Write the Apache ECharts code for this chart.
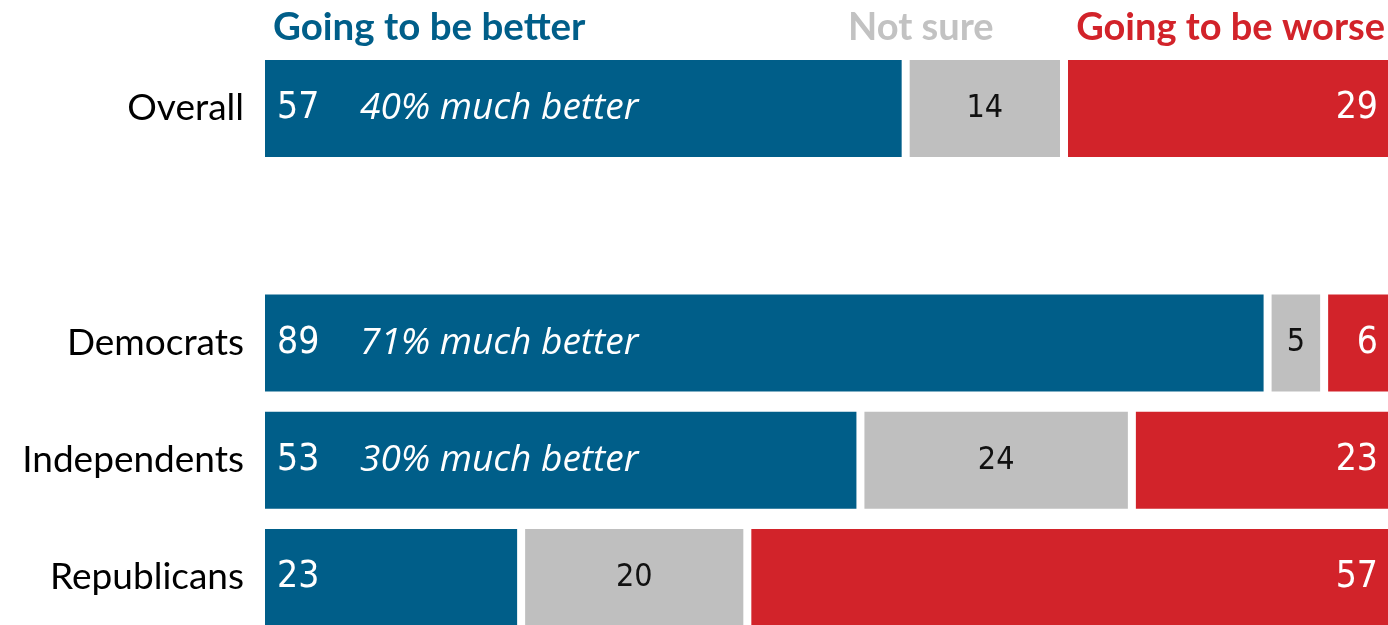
<!DOCTYPE html>
<html>
<head>
<meta charset="utf-8">
<script src="https://cdn.jsdelivr.net/npm/echarts@6/dist/echarts.min.js"></script>
<style>
  html, body { margin: 0; padding: 0; background: #fff; }
  #main { width: 1388px; height: 625px; }
</style>
</head>
<body>
<div id="main"></div>
<script>
// rows (the empty one is the spacer between Overall and the party rows)
const groups = ['Overall', '', 'Democrats', 'Independents', 'Republicans'];
const better = [57, '-', 89, 53, 23];
const notSure = [14, '-', 5, 24, 20];
const worse = [29, '-', 6, 23, 57];
const muchBetter = [40, null, 71, 30, null];

const BLUE = '#005e89';
const GRAY = '#bfbfbf';
const RED = '#d2232a';
const FONT = 'Lato, "Noto Sans", sans-serif';
const NUMFONT = '"Liberation Sans Narrow", "DejaVu Sans Condensed", sans-serif';

var chartDom = document.getElementById('main');
var myChart = echarts.init(chartDom);

// the grid can't run past the canvas, so the axis max is cut a little so that
// the last bar's white edge falls just outside the right border
const GRID_LEFT = 261;
const GRID_W = 1388 - GRID_LEFT;
const X_MAX = 100 * GRID_W / (GRID_W + 4);

const option = {
  animation: false,
  grid: { left: GRID_LEFT, right: 0, top: 108.5, height: 469 },
  xAxis: {
    type: 'value',
    min: 0,
    max: X_MAX,
    show: false
  },
  yAxis: {
    type: 'category',
    data: groups,
    inverse: true,
    boundaryGap: false,
    axisLine: { show: false },
    axisTick: { show: false },
    axisLabel: {
      margin: 17,
      fontFamily: FONT,
      fontSize: 37,
      color: '#000'
    }
  },
  graphic: [
    { type: 'text', x: 273, y: 28, style: { text: 'Going to be better', fill: BLUE, font: 'bold 38.5px ' + FONT, verticalAlign: 'middle' } },
    { type: 'text', x: 848, y: 28, style: { text: 'Not sure', fill: '#c2c2c2', font: 'bold 38px ' + FONT, verticalAlign: 'middle' } },
    { type: 'text', x: 1385, y: 28, style: { text: 'Going to be worse', fill: RED, font: 'bold 38px ' + FONT, verticalAlign: 'middle', align: 'right' } }
  ],
  series: [
    {
      name: 'Going to be better',
      type: 'bar',
      stack: 'all',
      barWidth: 105,
      data: better,
      itemStyle: { color: BLUE, borderColor: '#fff', borderWidth: 4 },
      label: {
        show: true,
        position: 'insideLeft',
        distance: 16,
        formatter: function (p) {
          const m = muchBetter[p.dataIndex];
          return m == null ? '{n|' + p.value + '}' : '{n|' + p.value + '}{m|' + m + '% much better}';
        },
        rich: {
          n: { color: '#fff', fontFamily: NUMFONT, fontSize: 37, width: 83 },
          m: { color: '#fff', fontFamily: '"Open Sans", sans-serif', fontStyle: 'italic', fontSize: 37 }
        }
      }
    },
    {
      name: 'Not sure',
      type: 'bar',
      stack: 'all',
      data: notSure,
      itemStyle: { color: GRAY, borderColor: '#fff', borderWidth: 4 },
      label: {
        show: true,
        position: 'inside',
        color: '#111',
        fontFamily: NUMFONT,
        fontSize: 32
      }
    },
    {
      name: 'Going to be worse',
      type: 'bar',
      stack: 'all',
      clip: false,
      data: worse,
      itemStyle: { color: RED, borderColor: '#fff', borderWidth: 4 },
      label: {
        show: true,
        position: 'insideRight',
        distance: 14,
        color: '#fff',
        fontFamily: NUMFONT,
        fontSize: 37
      }
    }
  ]
};

myChart.setOption(option);
</script>
</body>
</html>
